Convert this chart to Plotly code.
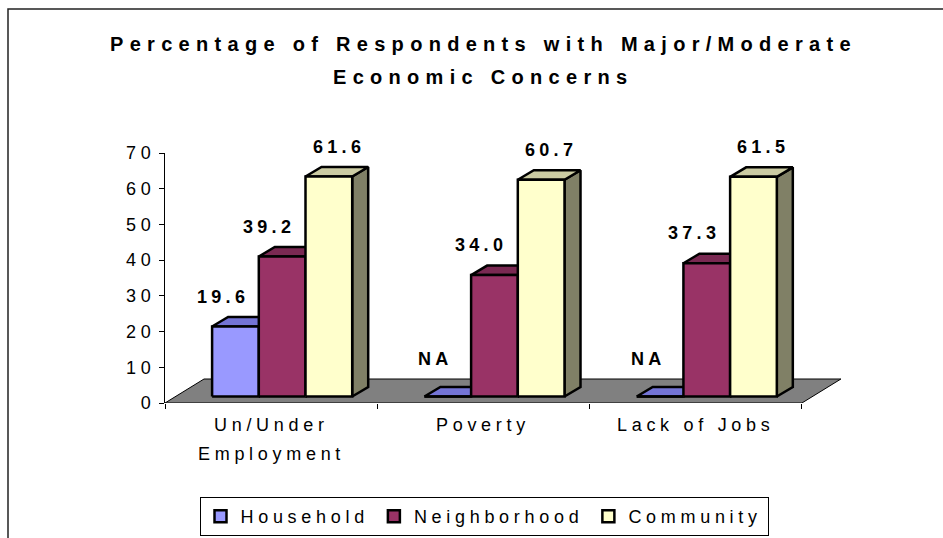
import plotly.graph_objects as go

# ---------------- data ----------------
categories = ["Un/Under Employment", "Poverty", "Lack of Jobs"]
category_lines = [["Un/Under", "Employment"], ["Poverty"], ["Lack of Jobs"]]
series_names = ["Household", "Neighborhood", "Community"]
household = [19.6, None, None]          # None = NA
neighborhood = [39.2, 34.0, 37.3]
community = [61.6, 60.7, 61.5]
y_tick_values = [0, 10, 20, 30, 40, 50, 60, 70]
title_lines = ["Percentage of Respondents with Major/Moderate", "Economic Concerns"]

series_values = [household, neighborhood, community]

# ---------------- style ----------------
front_colors = ["#9999FF", "#993366", "#FFFFCC"]
top_colors = ["#7474D6", "#7A2952", "#CCCCA3"]
side_colors = ["#5C5CB0", "#5C1F3D", "#808066"]
floor_color = "#808080"
FONT = "Liberation Sans, Arial, sans-serif"

W, H = 943, 538
ML, MR, MT, MB = 165, 88, 153, 135
XMAX, YMAX = 3.25, 70
px_x = (W - ML - MR) / XMAX
px_y = (H - MT - MB) / YMAX


def ux(p):
    return p / px_x


def uy(p):
    return p / px_y


def px_to_paper_x(p):
    return (p - ML) / (W - ML - MR)


def px_to_paper_y(p):
    return (H - MB - p) / (H - MT - MB)


def spaced(text, sp):
    return f'<span style="letter-spacing:{sp}px">{text}</span>'


BAR_W = ux(46.7)
FRONT_DX, FRONT_DY = ux(11), uy(6.5)
DEPTH_DX, DEPTH_DY = ux(16), uy(9.5)
FLOOR_DX, FLOOR_DY = ux(39), uy(24)
LABEL_GAP = uy(30)
NA_EXTRA = uy(8)
label_dx = [ux(-12), ux(-13), ux(10)]
SP_REG, SP_BOLD = 4.7, 4.3

fig = go.Figure()
annotations = []

# floor
ncat = len(categories)
fig.add_trace(go.Scatter(
    x=[0, ncat, ncat + FLOOR_DX, FLOOR_DX, 0],
    y=[0, 0, FLOOR_DY, FLOOR_DY, 0],
    fill="toself", fillcolor=floor_color, mode="lines",
    line=dict(color="#000000", width=1), showlegend=False, hoverinfo="skip"))

for i in range(ncat):
    for k, vals in enumerate(series_values):
        raw = vals[i]
        v = 0 if raw is None else raw
        left = i + 0.5 - 1.5 * BAR_W + k * BAR_W + FRONT_DX
        right = left + BAR_W
        base = FRONT_DY
        top = base + v
        line = dict(color="#000000", width=2.5)
        # side face
        fig.add_trace(go.Scatter(
            x=[right, right + DEPTH_DX, right + DEPTH_DX, right, right],
            y=[base, base + DEPTH_DY, top + DEPTH_DY, top, base],
            fill="toself", fillcolor=side_colors[k], mode="lines", line=line,
            showlegend=False, hoverinfo="skip"))
        # top face
        fig.add_trace(go.Scatter(
            x=[left, right, right + DEPTH_DX, left + DEPTH_DX, left],
            y=[top, top, top + DEPTH_DY, top + DEPTH_DY, top],
            fill="toself", fillcolor=top_colors[k], mode="lines", line=line,
            showlegend=False, hoverinfo="skip"))
        # front face
        fig.add_trace(go.Scatter(
            x=[left, right, right, left, left],
            y=[base, base, top, top, base],
            fill="toself", fillcolor=front_colors[k], mode="lines", line=line,
            showlegend=False, hoverinfo="text",
            text=f"{series_names[k]}: {'NA' if raw is None else raw}"))
        # value label (y in paper units so labels above the axis range stay visible)
        label_y = top + LABEL_GAP + (NA_EXTRA if raw is None else 0)
        annotations.append(dict(
            text=spaced("NA" if raw is None else f"{raw:.1f}", SP_BOLD),
            xref="x", yref="paper",
            x=(left + right) / 2 + label_dx[k],
            y=label_y / YMAX,
            xanchor="center", yanchor="middle", showarrow=False,
            font=dict(family=FONT, size=18, color="#000000", weight="bold")))

# legend entries
for k, name in enumerate(series_names):
    fig.add_trace(go.Bar(
        x=[None], y=[None], name=spaced(name, SP_REG),
        marker=dict(color=front_colors[k], line=dict(color="#000000", width=2.5))))

for t, py in zip(title_lines, [44, 77]):
    annotations.append(dict(
        text=spaced(t, 6.3), xref="paper", yref="paper",
        x=px_to_paper_x(483), y=px_to_paper_y(py), xanchor="center", yanchor="middle",
        showarrow=False, font=dict(family=FONT, size=20, color="#000000", weight="bold")))
for i, lines in enumerate(category_lines):
    for j, t in enumerate(lines):
        annotations.append(dict(
            text=spaced(t, SP_REG), xref="x", yref="paper",
            x=i + 0.5, y=px_to_paper_y(425 + 29 * j), xanchor="center", yanchor="middle",
            showarrow=False, font=dict(family=FONT, size=18, color="#000000")))

fig.update_layout(
    width=W, height=H,
    margin=dict(l=ML, r=MR, t=MT, b=MB, pad=0, autoexpand=False),
    paper_bgcolor="#FFFFFF", plot_bgcolor="#FFFFFF",
    font=dict(family=FONT, size=18, color="#000000"),
    barmode="overlay",
    showlegend=True,
    legend=dict(orientation="h", x=px_to_paper_x(484), xanchor="center",
                y=px_to_paper_y(497), yanchor="top",
                bordercolor="#000000", borderwidth=1, bgcolor="#FFFFFF",
                font=dict(family=FONT, size=18, color="#000000"),
                itemwidth=30, tracegroupgap=0),
    xaxis=dict(range=[0, XMAX], showgrid=False, zeroline=False, showline=False,
               tickvals=list(range(ncat + 1)), ticks="outside", ticklen=5,
               tickcolor="#000000", showticklabels=False, fixedrange=True),
    yaxis=dict(range=[0, YMAX], showgrid=False, zeroline=False, showline=True,
               linecolor="#000000", linewidth=1, ticks="outside", ticklen=5,
               tickcolor="#000000", tickvals=y_tick_values,
               ticktext=[spaced(str(v), SP_REG) for v in y_tick_values],
               tickfont=dict(family=FONT, size=18, color="#000000"),
               fixedrange=True),
    annotations=annotations,
    shapes=[dict(type="rect", xref="paper", yref="paper",
                 x0=px_to_paper_x(8), x1=px_to_paper_x(965),
                 y0=px_to_paper_y(560), y1=px_to_paper_y(9),
                 line=dict(color="#222222", width=1.5), layer="below")],
)

fig.write_html("out.html", config={"displayModeBar": False},
               post_script="document.body.style.margin='0';")
